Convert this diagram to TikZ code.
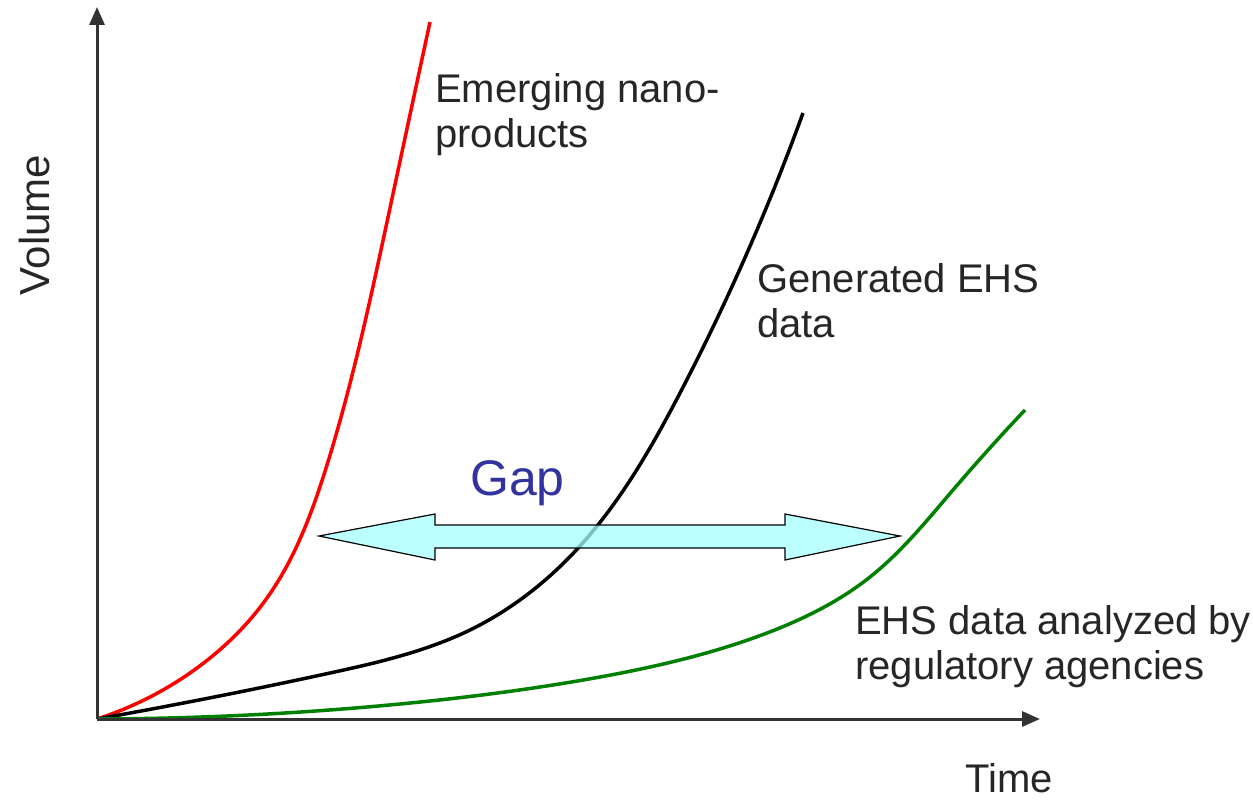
\documentclass[tikz,border=0pt]{standalone}
\usepackage{fontspec}
\setmainfont{Liberation Sans}
\usetikzlibrary{arrows.meta,hobby}
\definecolor{gapblue}{RGB}{51,51,160}
\definecolor{gapfill}{RGB}{165,255,255}
\definecolor{dgreen}{RGB}{0,128,0}
\begin{document}
\begin{tikzpicture}[x=1pt,y=-1pt,
  curve/.style={line width=3.5pt, line join=round, use Hobby shortcut},
  axis/.style={line width=3pt, draw=black!80, -{Triangle[length=18pt,width=15pt]}},
  lbl/.style={anchor=base west, inner sep=0pt, font=\fontsize{40}{45}\selectfont, align=left, text=black!85},
  gaparrow/.style={fill=gapfill, fill opacity=0.75, draw=black, line width=1.2pt, line join=miter}]
\useasboundingbox (0,0) rectangle (1253,800);
\fill[white] (0,0) rectangle (1253,800);
\coordinate (o) at (97,719);
\coordinate (ytop) at (97,7);
\coordinate (xend) at (1040,719);
% curves
\draw[curve, red] (97,719) .. (197,668) .. (267,598) .. (327,465) .. (390,208) .. (430,22);
\draw[curve, black] (97,719) .. (330,673) .. (470,630) .. (580,546) .. (680,393) .. (803,113);
\draw[curve, dgreen] (97,719) .. (400,704) .. (600,677) .. (767,633) .. (870,577) .. (953,490) .. (1025,410);
% axes
\draw[axis] (o) -- (ytop);
\draw[axis] (o) -- (xend);
% gap arrow
\draw[gaparrow] (319,536) -- (435,514) -- (435,525) -- (785,525) -- (785,514) -- (900,536) -- (785,560) -- (785,548) -- (435,548) -- (435,560) -- cycle;
% labels (base anchor = baseline of last line)
\node[lbl] (nano) at (435,147) {Emerging nano-\\products};
\node[lbl] (ehs) at (757,337) {Generated EHS\\data};
\node[lbl] (reg) at (855,679) {EHS data analyzed by\\regulatory agencies};
\node[lbl] (time) at (965,792) {Time};
\node[inner sep=0pt, rotate=90, font=\fontsize{42}{45}\selectfont, text=black!85] (vol) at (34,225) {Volume};
\node[anchor=base west, inner sep=0pt, font=\fontsize{50}{55}\selectfont, text=gapblue] (gap) at (470,495) {Gap};
\end{tikzpicture}
\end{document}
